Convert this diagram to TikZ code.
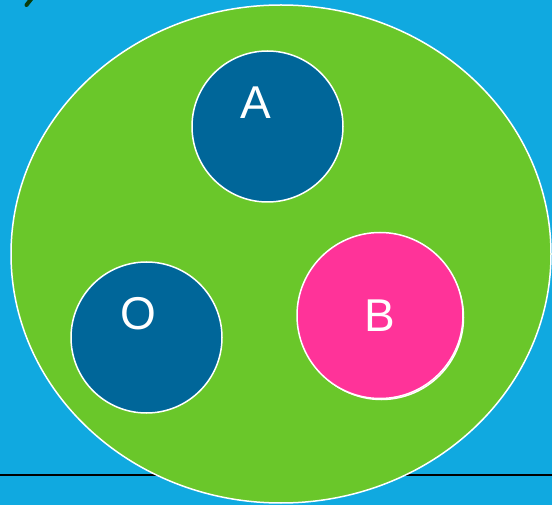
\documentclass[tikz,border=0pt]{standalone}
\usepackage{fontspec}
\setmainfont{Liberation Sans}
\usepackage{tikz}
\usetikzlibrary{positioning}
\definecolor{sky}{HTML}{10A9E0}
\definecolor{grass}{HTML}{6AC72A}
\definecolor{deepblue}{HTML}{006699}
\definecolor{rose}{HTML}{FF3399}
\definecolor{darkleaf}{HTML}{0B3D0B}
\begin{document}
\begin{tikzpicture}[x=1pt,y=-1pt,
  disc/.style={circle,draw=white,line width=1.5pt,inner sep=0pt,minimum size=#1},
  letter/.style={text=white,font=\fontsize{46}{50}\selectfont,inner sep=0pt}]
\fill[sky] (0,0) rectangle (552,505);
\useasboundingbox (0,0) rectangle (552,505);
\draw[darkleaf,line width=4pt,line cap=round] (26.5,5) -- (32,-2);
\coordinate (west) at (0,475);
\coordinate (east) at (552,475);
\draw[black,line width=2pt] (west) -- (east);
\draw[fill=grass,draw=white,line width=1.5pt] (281,254) ellipse [x radius=270pt,y radius=249pt];
\node (a) [disc=151pt,fill=deepblue] at (267.5,126.5) {};
\node (o) [disc=151pt,fill=deepblue] at (146.5,337.5) {};
\node (b2) [disc=164pt,fill=rose] at (381.5,317.5) {};
\node (b) [disc=166pt,fill=rose] at (380,315.5) {};
\node (la) [letter] at (256,103) {A};
\node (lo) [letter] at (138,314) {O};
\node (lb) [letter] at (380,316) {B};
\end{tikzpicture}
\end{document}
